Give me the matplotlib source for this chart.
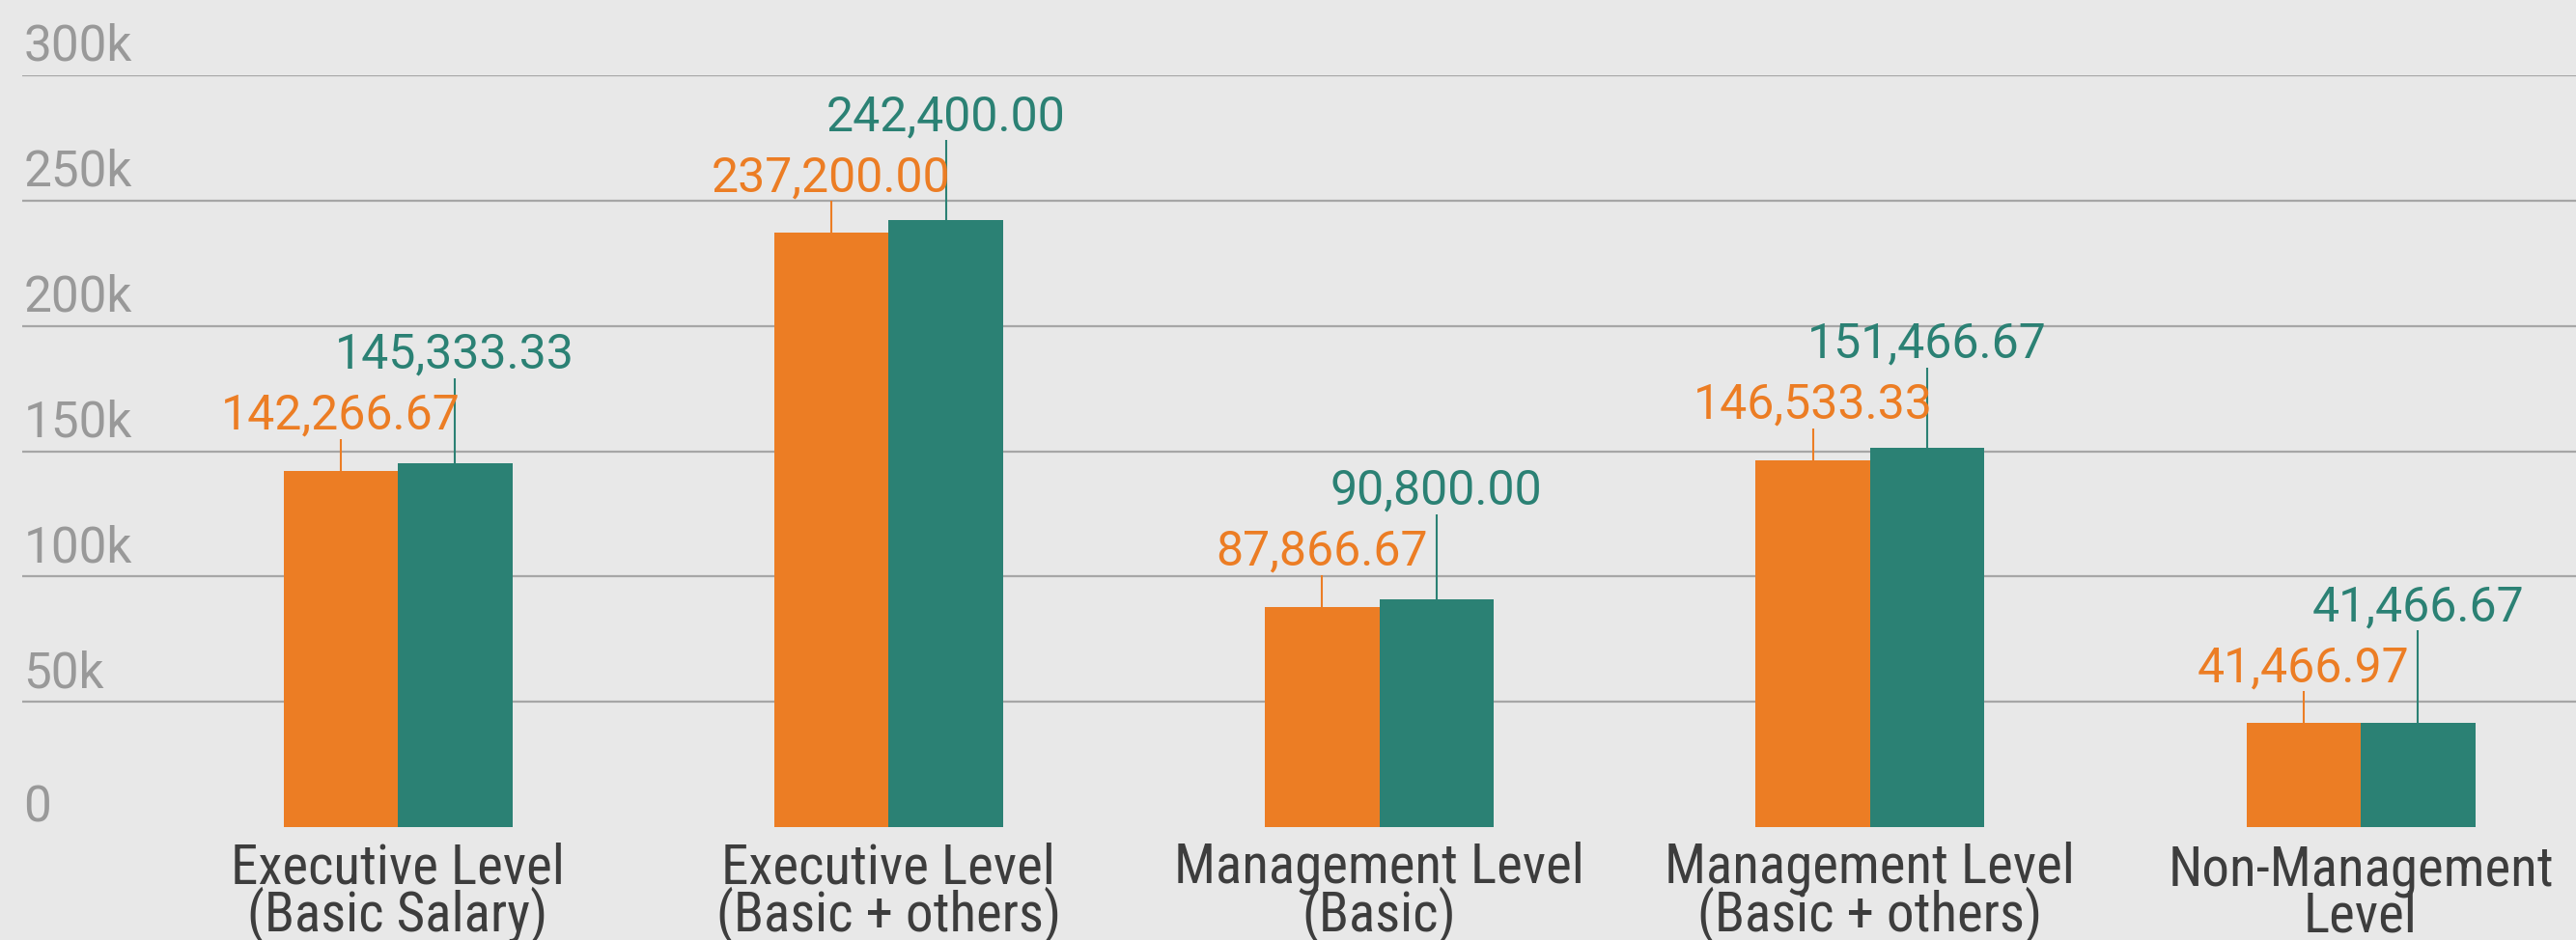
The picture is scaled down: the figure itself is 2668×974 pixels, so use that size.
import matplotlib
matplotlib.use("Agg")
import matplotlib.pyplot as plt
import numpy as np

# Average salary by job level, two series
categories = [
    "Executive Level\n(Basic Salary)",
    "Executive Level\n(Basic + others)",
    "Management Level\n(Basic)",
    "Management Level\n(Basic + others)",
    "Non-Management\nLevel",
]
series_a = [142266.67, 237200.00, 87866.67, 146533.33, 41466.97]
series_b = [145333.33, 242400.00, 90800.00, 151466.67, 41466.67]
label_a = ["142,266.67", "237,200.00", "87,866.67", "146,533.33", "41,466.97"]
label_b = ["145,333.33", "242,400.00", "90,800.00", "151,466.67", "41,466.67"]
y_ticks = [50000, 100000, 150000, 200000, 250000, 300000]
y_tick_labels = ["50k", "100k", "150k", "200k", "250k", "300k"]

ORANGE = "#EC7D24"
TEAL = "#2B8174"
BG = "#E8E8E8"
GRID = "#A6A6A6"
TICK_TXT = "#999999"
CAT_TXT = "#3D3D3D"
FONT_NUM = ["Roboto", "DejaVu Sans"]
FONT_CAT = ["Roboto Condensed", "Roboto", "DejaVu Sans"]

W, H, DPI = 2668, 974, 100
fig = plt.figure(figsize=(W / DPI, H / DPI), dpi=DPI, facecolor=BG)

ax_left_px, ax_bottom_px, ax_top_px = 23, 857, 78
ax = fig.add_axes([ax_left_px / W, (H - ax_bottom_px) / H,
                   (W - ax_left_px) / W, (ax_bottom_px - ax_top_px) / H])
ax.set_facecolor(BG)

group_px = 508.25          # horizontal distance between groups, pixels
first_center_px = 412
ax.set_xlim((ax_left_px - first_center_px) / group_px,
            (W - first_center_px) / group_px)
ax.set_ylim(0, 300000)
for s in ax.spines.values():
    s.set_visible(False)
ax.set_xticks([])
ax.set_yticks([])

px_per_unit = (ax_bottom_px - ax_top_px) / 300000.0
def px(v):
    return v / px_per_unit

# horizontal gridlines and their labels sitting above each line
for t in y_ticks:
    ax.axhline(t, color=GRID, lw=1.6, zorder=0)
for t, lab in zip([0] + y_ticks, ["0"] + y_tick_labels):
    off = 5 if t == 0 else 15
    ax.text(0.0005, t + px(off), lab, transform=ax.get_yaxis_transform(),
            ha="left", va="baseline", fontsize=37, color=TICK_TXT,
            family=FONT_NUM)

x = np.arange(len(categories))
bw = 118.5 / group_px
ax.bar(x - bw / 2, series_a, width=bw, color=ORANGE, zorder=2)
ax.bar(x + bw / 2, series_b, width=bw, color=TEAL, zorder=2)

# value labels with leader lines
lead_a, base_gap, line_gap, stack_gap = 33, 43, 10, 63
for i in range(len(categories)):
    xa, xb = x[i] - bw / 2, x[i] + bw / 2
    ya, yb = series_a[i], series_b[i]
    base_a = ya + px(base_gap)
    ax.plot([xa, xa], [ya, ya + px(lead_a)], color=ORANGE, lw=1.5,
            solid_capstyle="butt", zorder=3, clip_on=False)
    ax.text(xa, base_a, label_a[i], ha="center", va="baseline",
            fontsize=36, color=ORANGE, family=FONT_NUM,
            clip_on=False, zorder=4)
    base_b = max(yb + px(base_gap), base_a + px(stack_gap))
    ax.plot([xb, xb], [yb, base_b - px(line_gap)], color=TEAL, lw=1.5,
            solid_capstyle="butt", zorder=3, clip_on=False)
    ax.text(xb, base_b, label_b[i], ha="center", va="baseline",
            fontsize=36, color=TEAL, family=FONT_NUM,
            clip_on=False, zorder=4)

# two-line category labels below the bars (anchored on the last line's baseline)
for i, cat in enumerate(categories):
    ax.text(x[i], -px(108), cat, ha="center", va="baseline",
            multialignment="center", linespacing=0.82,
            fontsize=41, color=CAT_TXT, family=FONT_CAT, clip_on=False)

fig.savefig("out.png", dpi=DPI, facecolor=BG)
